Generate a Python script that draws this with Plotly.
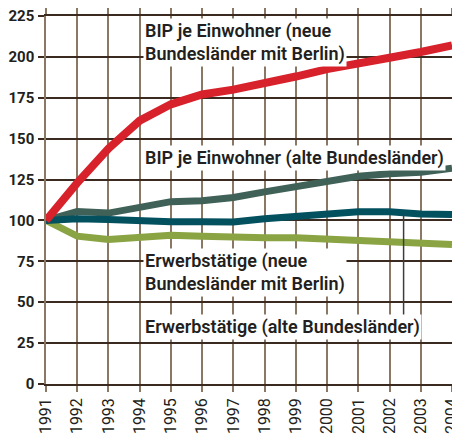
import plotly.graph_objects as go

# Index, 1991 = 100
years = list(range(1991, 2005))
bip_neu = [100, 123, 144, 161, 171, 177, 180, 183.5, 188, 192.5, 195.5, 199.5, 203, 207]
bip_alt = [100, 105.5, 104.5, 107.5, 111.5, 112, 114, 117.5, 121, 124.5, 127, 128.5, 129.5, 132]
erw_alt = [100, 101, 100.6, 99.6, 99.2, 99.2, 99, 101, 102.2, 103.7, 105.3, 105.3, 103.9, 103.7]
erw_neu = [100, 90.4, 88.4, 90, 91, 90.4, 89.4, 89.4, 89.4, 88.4, 88, 86.3, 85.7, 85.3]

labels = [
    ("BIP je Einwohner (neue<br>Bundesländer mit Berlin)", 208.5),
    ("BIP je Einwohner (alte Bundesländer)", 138.4),
    ("Erwerbstätige (neue<br>Bundesländer mit Berlin)", 68.3),
    ("Erwerbstätige (alte Bundesländer)", 34.8),
]

DARK = "#3a2a20"
BROWN = "#8a7865"
TXT = "#231f20"
FONT = "Roboto"

fig = go.Figure()
fig.add_trace(go.Scatter(x=years, y=erw_neu, mode="lines", line=dict(color="#8ba443", width=7)))
fig.add_trace(go.Scatter(x=years, y=bip_alt, mode="lines", line=dict(color="#3f6157", width=7)))
fig.add_trace(go.Scatter(x=years, y=erw_alt, mode="lines", line=dict(color="#03505f", width=7)))
fig.add_trace(go.Scatter(x=years, y=bip_neu, mode="lines", line=dict(color="#d7212b", width=8)))

# leader line for the last label
fig.add_shape(type="line", x0=2002.45, x1=2002.45, y0=42, y1=103.5,
              line=dict(color="#3c3c3c", width=1.5), layer="above")

for txt, yv in labels:
    fig.add_annotation(x=1994.12, y=yv, xref="x", yref="y", text=txt, showarrow=False,
                       xanchor="left", yanchor="middle", align="left",
                       bgcolor="white", borderpad=1,
                       font=dict(family=FONT, size=18, color=TXT, weight=600))

fig.update_xaxes(range=[1991, 2004], tickvals=years, ticktext=[str(y) for y in years],
                 tickangle=-90, showgrid=True, gridcolor=BROWN, gridwidth=1.5,
                 showline=True, linecolor=DARK, linewidth=1.5, mirror="ticks",
                 ticks="outside", ticklen=6, tickcolor=BROWN, tickwidth=1.5,
                 zeroline=False, automargin=False, ticklabeloverflow="allow",
                 tickfont=dict(family=FONT, size=16, color=TXT))
fig.update_yaxes(range=[0, 225], tickvals=list(range(0, 226, 25)),
                 showgrid=True, gridcolor=DARK, gridwidth=1.5,
                 showline=True, linecolor=BROWN, linewidth=1.5, mirror="ticks",
                 ticks="outside", ticklen=6, tickcolor=DARK, tickwidth=1.5,
                 zeroline=False, automargin=False, ticklabelstandoff=1,
                 ticklabeloverflow="allow",
                 tickfont=dict(family=FONT, size=15, color=TXT, weight="bold"))

# page body has an 8px margin, so the figure is a bit smaller than the window
fig.update_layout(width=452, height=433, showlegend=False,
                  margin=dict(l=38, r=8, t=8, b=57),
                  plot_bgcolor="white", paper_bgcolor="white")

fig.write_html("out.html")
